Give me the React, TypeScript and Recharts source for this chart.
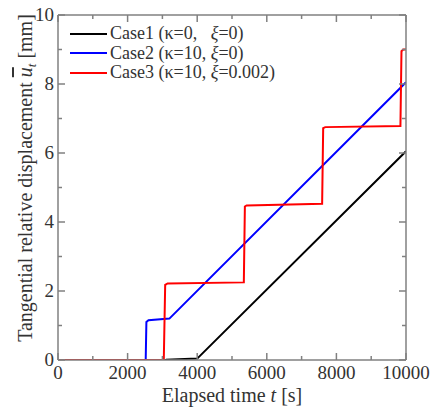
import React from 'react';
import { LineChart, Line, XAxis, YAxis, Legend } from 'recharts';

// elapsed time [s] and tangential displacement [mm] per case
const case1Time = [0, 3100, 4000, 10000];
const case1Disp = [0, 0.01, 0.04, 6.05];

const case2Time = [0, 2520, 2540, 2600, 3200, 10000];
const case2Disp = [0, 0, 1.1, 1.15, 1.2, 8.05];

const case3Time = [0, 3040, 3080, 3150, 5340, 5370, 5420, 7590, 7620, 7680, 9840, 9870, 9920, 10000];
const case3Disp = [0, 0, 2.18, 2.22, 2.25, 4.45, 4.48, 4.53, 6.72, 6.75, 6.78, 8.95, 9.0, 9.0];

const xTicks = [0, 1000, 2000, 3000, 4000, 5000, 6000, 7000, 8000, 9000, 10000];
const yTicks = [0, 1, 2, 3, 4, 5, 6, 7, 8, 9, 10];

const legendItems = [
    { label: 'Case1 (κ=0,   ', xi: 'ξ', rest: '=0)', color: '#000000' },
    { label: 'Case2 (κ=10, ', xi: 'ξ', rest: '=0)', color: '#0000ff' },
    { label: 'Case3 (κ=10, ', xi: 'ξ', rest: '=0.002)', color: '#ff0000' },
];

const toRows = (t: number[], d: number[]) => t.map((time, i) => ({ time, disp: d[i] }));

const case1 = toRows(case1Time, case1Disp);
const case2 = toRows(case2Time, case2Disp);
const case3 = toRows(case3Time, case3Disp);

const FRAME = '#808080';
const TEXT = '#333333';
const FONT = '"Liberation Serif", "Times New Roman", serif';

const makeTick = (side: 'bottom' | 'top' | 'left' | 'right', majorStep: number) => (props: any) => {
    const { x, y, payload } = props;
    const v = payload.value;
    const major = v % majorStep === 0;
    const len = major ? 7 : 4;
    let line;
    if (side === 'bottom') line = <line x1={x} y1={y} x2={x} y2={y - len} />;
    else if (side === 'top') line = <line x1={x} y1={y} x2={x} y2={y + len} />;
    else if (side === 'left') line = <line x1={x} y1={y} x2={x + len} y2={y} />;
    else line = <line x1={x} y1={y} x2={x - len} y2={y} />;
    return (
        <g>
            <g stroke={FRAME} strokeWidth={1.5}>{line}</g>
            {major && side === 'bottom' && (
                <text x={x} y={y + 19} textAnchor="middle" fontSize={19} fill={TEXT} fontFamily={FONT}>{v}</text>
            )}
            {major && side === 'left' && (
                <text x={x - 4} y={y + 6} textAnchor="end" fontSize={19} fill={TEXT} fontFamily={FONT}>{v}</text>
            )}
        </g>
    );
};

const renderLegend = () => (
    <div style={{ fontFamily: FONT, fontSize: 18, color: TEXT, lineHeight: '19.5px' }}>
        {legendItems.map((it) => (
            <div key={it.label} style={{ display: 'flex', alignItems: 'center', whiteSpace: 'pre' }}>
                <span style={{ display: 'inline-block', width: 37, height: 2, background: it.color, marginRight: 3 }} />
                <span>{it.label}<i>{it.xi}</i>{it.rest}</span>
            </div>
        ))}
    </div>
);

const App = () => {
    return (
        <div style={{ position: 'absolute', left: 0, top: 0, width: 436, height: 414, background: '#fff' }}>
            <LineChart width={436} height={414} margin={{ top: 14, right: 29, bottom: 53, left: 57 }}>
                <XAxis xAxisId="b" dataKey="time" type="number" domain={[0, 10000]} ticks={xTicks}
                    stroke={FRAME} strokeWidth={1.5} tickLine={false} tickSize={0} tickMargin={0}
                    tick={makeTick('bottom', 2000)} height={1} interval={0} allowDataOverflow />
                <XAxis xAxisId="t" dataKey="time" type="number" orientation="top" domain={[0, 10000]} ticks={xTicks}
                    stroke={FRAME} strokeWidth={1.5} tickLine={false} tickSize={0} tickMargin={0}
                    tick={makeTick('top', 2000)} height={1} interval={0} allowDataOverflow />
                <YAxis yAxisId="l" type="number" domain={[0, 10]} ticks={yTicks}
                    stroke={FRAME} strokeWidth={1.5} tickLine={false} tickSize={0} tickMargin={0}
                    tick={makeTick('left', 2)} width={1} interval={0} allowDataOverflow />
                <YAxis yAxisId="r" type="number" orientation="right" domain={[0, 10]} ticks={yTicks}
                    stroke={FRAME} strokeWidth={1.5} tickLine={false} tickSize={0} tickMargin={0}
                    tick={makeTick('right', 2)} width={1} interval={0} allowDataOverflow />
                <Legend layout="vertical" align="center" verticalAlign="middle" content={renderLegend}
                    wrapperStyle={{ position: 'absolute', left: 70, top: 24, width: 280 }} />
                <Line xAxisId="b" yAxisId="l" data={case1} dataKey="disp" name="Case1" stroke="#000000"
                    strokeWidth={2} dot={false} isAnimationActive={false} type="linear" />
                <Line xAxisId="b" yAxisId="l" data={case2} dataKey="disp" name="Case2" stroke="#0000ff"
                    strokeWidth={2} dot={false} isAnimationActive={false} type="linear" />
                <Line xAxisId="b" yAxisId="l" data={case3} dataKey="disp" name="Case3" stroke="#ff0000"
                    strokeWidth={2} dot={false} isAnimationActive={false} type="linear" />
                <text x={232} y={402} textAnchor="middle" fontSize={20} fill={TEXT} fontFamily={FONT}>
                    Elapsed time <tspan fontStyle="italic">t</tspan> [s]
                </text>
                <text x={32} y={178} transform="rotate(-90 32 178)" textAnchor="middle" fontSize={20} fill={TEXT} fontFamily={FONT}>
                    Tangential relative displacement <tspan fontStyle="italic" style={{ textDecoration: 'overline' }}>u</tspan>
                    <tspan fontStyle="italic" fontSize={13} dy={4}>t</tspan>
                    <tspan dy={-4}> [mm]</tspan>
                </text>
            </LineChart>
        </div>
    );
};

export default App;
